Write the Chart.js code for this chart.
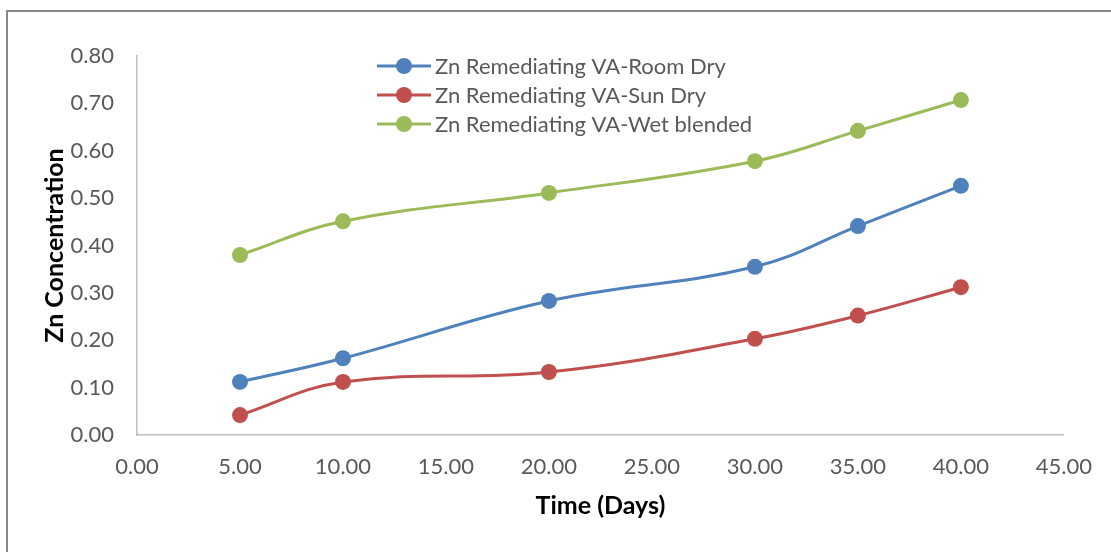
<!DOCTYPE html>
<html>
<head>
<meta charset="utf-8">
<script src="https://cdn.jsdelivr.net/npm/chart.js@4/dist/chart.umd.min.js"></script>
<style>
  html, body { margin: 0; padding: 0; background: #fff; overflow: hidden; }
  #wrap { position: relative; width: 1111px; height: 552px; }
  #frame { position: absolute; left: 6px; top: 10px; width: 1120px; height: 560px;
           border-top: 2px solid #888; border-left: 2px solid #888; box-sizing: border-box; }
  canvas { position: absolute; left: 0; top: 0; }
</style>
</head>
<body>
<div id="wrap">
  <div id="frame"></div>
  <canvas id="chart" width="1111" height="552"></canvas>
</div>
<script>
// Sampling days
const days = [5, 10, 20, 30, 35, 40];

// Zn concentration for each drying treatment
const roomDry = [0.112, 0.162, 0.283, 0.355, 0.441, 0.526];
const sunDry = [0.042, 0.112, 0.133, 0.203, 0.252, 0.312];
const wetBlended = [0.380, 0.451, 0.511, 0.578, 0.642, 0.707];

const seriesNames = [
  'Zn Remediating VA-Room Dry',
  'Zn Remediating VA-Sun Dry',
  'Zn Remediating VA-Wet blended'
];
const seriesColors = ['#4F81BD', '#C0504D', '#9BBB59'];

const FONT = 'Lato, "Open Sans", sans-serif';
const TEXT = '#595959';

function toPoints(vals) {
  return vals.map((v, i) => ({ x: days[i], y: v }));
}

function makeSet(name, vals, color) {
  return {
    label: name,
    data: toPoints(vals),
    borderColor: color,
    backgroundColor: color,
    pointBackgroundColor: color,
    pointBorderColor: color,
    borderWidth: 3,
    pointRadius: 8,
    pointBorderWidth: 0,
    tension: 0.4,
    fill: false
  };
}

// Legend drawn inside the plot area, top middle
const insideLegend = {
  id: 'insideLegend',
  afterDraw(chart) {
    const ctx = chart.ctx;
    const x0 = 377, x1 = 431, textX = 435;
    const rows = [66, 95, 124];
    ctx.save();
    chart.data.datasets.forEach((ds, i) => {
      const y = rows[i];
      ctx.strokeStyle = ds.borderColor;
      ctx.lineWidth = 3;
      ctx.beginPath();
      ctx.moveTo(x0, y);
      ctx.lineTo(x1, y);
      ctx.stroke();
      ctx.fillStyle = ds.borderColor;
      ctx.beginPath();
      ctx.arc((x0 + x1) / 2, y, 8, 0, Math.PI * 2);
      ctx.fill();
      ctx.fillStyle = TEXT;
      ctx.font = '22px ' + FONT;
      ctx.textBaseline = 'middle';
      ctx.textAlign = 'left';
      ctx.fillText(ds.label, textX, y + 1);
    });
    ctx.restore();
  }
};

new Chart(document.getElementById('chart'), {
  type: 'line',
  data: {
    datasets: [
      makeSet(seriesNames[0], roomDry, seriesColors[0]),
      makeSet(seriesNames[1], sunDry, seriesColors[1]),
      makeSet(seriesNames[2], wetBlended, seriesColors[2])
    ]
  },
  options: {
    responsive: false,
    animation: false,
    layout: { padding: { top: 56, right: 42, bottom: 0, left: 0 } },
    plugins: {
      legend: { display: false },
      tooltip: { enabled: false }
    },
    scales: {
      x: {
        type: 'linear',
        min: 0,
        max: 45,
        grid: { display: false, drawTicks: false },
        border: { display: true, color: '#BFBFBF', width: 1.5 },
        ticks: {
          stepSize: 5,
          padding: 19,
          color: TEXT,
          font: { family: FONT, size: 22 },
          maxRotation: 0,
          callback: v => Number(v).toFixed(2)
        },
        title: {
          display: true,
          text: 'Time (Days)',
          color: '#000',
          font: { family: FONT, size: 25, weight: 'bold' },
          padding: { top: 0, bottom: 31 }
        },
        afterFit(scale) { scale.height = 117; }
      },
      y: {
        min: 0,
        max: 0.8,
        grid: { display: false, drawTicks: false },
        border: { display: true, color: '#BFBFBF', width: 1.5 },
        ticks: {
          stepSize: 0.1,
          padding: 23,
          color: TEXT,
          font: { family: FONT, size: 22 },
          callback: v => Number(v).toFixed(2)
        },
        title: {
          display: true,
          text: 'Zn Concentration',
          color: '#000',
          font: { family: FONT, size: 25, weight: 'bold' },
          padding: { top: 40, bottom: 0 }
        },
        afterFit(scale) { scale.width = 137; }
      }
    }
  },
  plugins: [insideLegend]
});
</script>
</body>
</html>
